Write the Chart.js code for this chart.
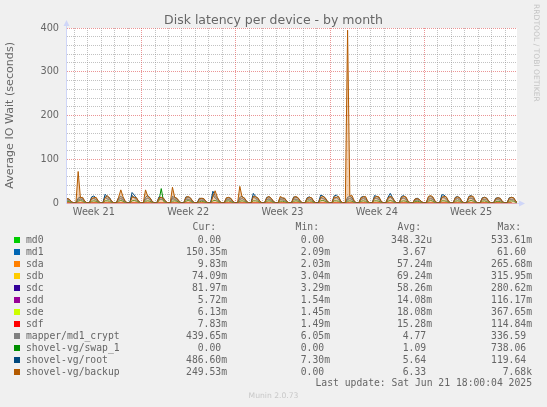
<!DOCTYPE html>
<html>
<head>
<meta charset="utf-8">
<title>Disk latency per device - by month</title>
<script src="https://cdn.jsdelivr.net/npm/chart.js@4.4.1/dist/chart.umd.min.js"></script>
<style>
  html, body { margin: 0; padding: 0; background: #F0F0F0; }
  #wrap { position: relative; width: 547px; height: 407px; overflow: hidden;
          font-family: "DejaVu Sans", sans-serif; color: #666; }
  #chart { position: absolute; left: 0; top: 0; }
  .t { position: absolute; white-space: pre; line-height: 12px; }
  .mono { font-family: "DejaVu Sans Mono", monospace; font-size: 9.72px; }
  .sw { position: absolute; width: 6px; height: 6px; }
  .vbox { position: absolute; display: flex; align-items: center; justify-content: center; }
  .vbox span { writing-mode: vertical-rl; white-space: pre; }
</style>
</head>
<body>
<div id="wrap">
  <canvas id="chart" width="547" height="230"></canvas>
  <div class="t" style="left:0;width:547px;top:12px;line-height:16px;text-align:center;font-size:12.5px;">Disk latency per device - by month</div>
  <div class="vbox" style="left:3px;top:28px;width:14px;height:175px;">
    <span style="font-size:11.1px;line-height:14px;transform:rotate(180deg);">Average IO Wait (seconds)</span>
  </div>
  <div class="vbox" style="left:531px;top:4px;width:10px;height:98px;">
    <span style="font-size:7.6px;line-height:10px;color:#c4c4c4;">RRDTOOL / TOBI OETIKER</span>
  </div>
  <div id="legend"></div>
</div>
<script>
// ===== Data (x in days from the left edge of the graph) =====
const seriesNames = ['md0', 'md1', 'sda', 'sdb', 'sdc', 'sdd', 'sde', 'sdf',
  'mapper/md1_crypt', 'shovel-vg/swap_1', 'shovel-vg/root', 'shovel-vg/backup'];
const seriesColors = ['#00CC00', '#0066B3', '#FF8000', '#FFCC00', '#330099', '#990099',
  '#CCFF00', '#FF0000', '#808080', '#008F00', '#00487D', '#B35A00'];

const weekLabels = ['Week 21', 'Week 22', 'Week 23', 'Week 24', 'Week 25'];
const weekLabelPos = [2.07, 9.07, 16.07, 23.07, 30.07];
const weekStarts = [5.57, 12.57, 19.57, 26.57];
const yTicks = [0, 100, 200, 300, 400];

// 4-hourly samples (00,04,08,12,16,20h), first one at the midnight before the graph starts
const backupValues = [
  0.2, 0.3, 6, 10, 9, 3.5,     0.3, 0.2, 72, 12, 13, 4,
  0.2, 0.3, 11, 12, 13, 4.5,   0.4, 0.3, 12, 17, 11, 3.8,
  0.3, 0.2, 13, 30, 14, 4,     0.2, 0.4, 14, 13, 12, 3.6,
  0.3, 0.2, 30, 15, 12, 3.5,   0.2, 0.3, 12, 13, 11, 3.8,
  0.3, 0.3, 36, 13, 11, 4.2,   0.2, 0.2, 13, 15, 12, 4.4,
  0.3, 0.2, 10, 11, 10, 3.2,   0.2, 0.3, 15, 28, 13, 4,
  0.3, 0.2, 12, 13, 11, 3.6,   0.2, 0.3, 38, 14, 12, 4.1,
  0.3, 0.2, 15, 14, 12, 3.9,   0.2, 0.3, 12, 15, 11, 4,
  0.3, 0.2, 15, 12, 11, 3.4,   0.2, 0.3, 13, 15, 12, 4.3,
  0.3, 0.2, 11, 13, 12, 3.6,   0.2, 0.2, 13, 15, 12, 4.1,
  0.3, 0.3, 14, 13, 15, 3.9,   0.2, 0.2, 395, 16, 17, 4.4,
  0.3, 0.2, 12, 14, 15, 4,     0.2, 0.3, 13, 15, 14, 3.7,
  0.3, 0.2, 12, 15, 13, 4.1,   0.2, 0.3, 13, 15, 14, 3.8,
  0.3, 0.2, 9, 10, 8, 3,       0.2, 0.2, 15, 17, 14, 4.3,
  0.3, 0.3, 13, 15, 14, 4,     0.2, 0.2, 12, 14, 12, 3.7,
  0.3, 0.2, 14, 16, 15, 4.2,   0.2, 0.3, 11, 13, 11, 3.4,
  0.3, 0.2, 10, 12, 11, 3.5,   0.2, 0.2, 11, 13, 12, 3.8,
  0.25
];
const rootValues = [
  0.1, 0.2, 7, 11, 8, 2.5,     0.1, 0.2, 11, 14, 10, 3,
  0.1, 0.3, 14, 16, 11, 3.2,   0.2, 0.2, 20, 14, 12, 3,
  0.1, 0.2, 12, 15, 11, 2.8,   0.2, 0.3, 24, 18, 11, 3.2,
  0.1, 0.2, 13, 17, 12, 2.9,   0.1, 0.2, 14, 12, 11, 3,
  0.1, 0.3, 15, 12, 10, 3.1,   0.1, 0.2, 14, 13, 11, 2.9,
  0.1, 0.2, 11, 10, 9, 2.5,    0.2, 0.2, 27, 17, 11, 3.1,
  0.1, 0.2, 11, 12, 10, 2.8,   0.1, 0.3, 13, 15, 11, 3.2,
  0.1, 0.2, 22, 15, 11, 2.9,   0.2, 0.2, 13, 14, 10, 3,
  0.1, 0.2, 12, 11, 10, 2.8,   0.1, 0.2, 14, 13, 11, 2.9,
  0.1, 0.3, 12, 14, 11, 3,     0.2, 0.2, 18, 16, 12, 3.2,
  0.1, 0.2, 16, 18, 13, 2.9,   0.1, 0.2, 13, 15, 12, 3.1,
  0.1, 0.2, 13, 15, 12, 2.9,   0.2, 0.2, 17, 15, 12, 3.2,
  0.1, 0.2, 13, 22, 12, 2.9,   0.1, 0.3, 15, 17, 12, 3.1,
  0.1, 0.2, 9, 11, 8, 2.4,     0.2, 0.2, 13, 15, 12, 3.1,
  0.1, 0.2, 19, 18, 13, 3.2,   0.1, 0.2, 13, 15, 11, 2.8,
  0.2, 0.2, 15, 17, 12, 3,     0.1, 0.2, 12, 13, 11, 2.8,
  0.1, 0.3, 11, 12, 10, 2.7,   0.1, 0.2, 12, 13, 11, 3,
  0.49
];
const md1Values = [
  0.1, 0.1, 5, 7, 5, 1.6,      0.1, 0.1, 7, 9, 7, 1.9,
  0.1, 0.2, 9, 10, 7, 2,       0.1, 0.1, 13, 9, 8, 1.9,
  0.1, 0.1, 8, 10, 7, 1.8,     0.1, 0.2, 15, 12, 7, 2,
  0.1, 0.1, 8, 11, 8, 1.8,     0.1, 0.1, 9, 8, 7, 1.9,
  0.1, 0.2, 10, 8, 6, 2,       0.1, 0.1, 9, 8, 7, 1.8,
  0.1, 0.1, 7, 6, 6, 1.6,      0.1, 0.1, 17, 11, 7, 2,
  0.1, 0.1, 7, 8, 6, 1.8,      0.1, 0.2, 8, 10, 7, 2,
  0.1, 0.1, 14, 10, 7, 1.8,    0.1, 0.1, 8, 9, 6, 1.9,
  0.1, 0.1, 8, 7, 6, 1.8,      0.1, 0.1, 9, 8, 7, 1.8,
  0.1, 0.2, 8, 9, 7, 1.9,      0.1, 0.1, 12, 10, 8, 2,
  0.1, 0.1, 10, 12, 8, 1.8,    0.1, 0.1, 8, 10, 8, 2,
  0.1, 0.1, 8, 10, 8, 1.8,     0.1, 0.1, 11, 10, 8, 2,
  0.1, 0.1, 8, 14, 8, 1.8,     0.1, 0.2, 10, 11, 8, 2,
  0.1, 0.1, 6, 7, 5, 1.5,      0.1, 0.1, 8, 10, 8, 2,
  0.1, 0.1, 12, 12, 8, 2,      0.1, 0.1, 8, 10, 7, 1.8,
  0.1, 0.1, 10, 11, 8, 1.9,    0.1, 0.1, 8, 8, 7, 1.8,
  0.1, 0.2, 7, 8, 6, 1.7,      0.1, 0.1, 8, 8, 7, 1.9,
  0.15
];
const mapperValues = [
  0.1, 0.2, 6, 8, 6, 1.8,      0.1, 0.2, 8, 10, 8, 2.1,
  0.2, 0.2, 10, 11, 8, 2.2,    0.2, 0.3, 15, 10, 9, 2.1,
  0.1, 0.2, 9, 11, 8, 2,       0.2, 0.3, 18, 13, 8, 2.2,
  0.1, 0.2, 9, 12, 9, 2,       0.2, 0.2, 10, 9, 8, 2.1,
  0.2, 0.3, 11, 9, 7, 2.2,     0.1, 0.2, 10, 9, 8, 2,
  0.1, 0.2, 8, 7, 7, 1.8,      0.2, 0.3, 20, 12, 8, 2.2,
  0.1, 0.2, 8, 9, 7, 2,        0.2, 0.2, 9, 11, 8, 2.2,
  0.1, 0.2, 16, 11, 8, 2,      0.2, 0.3, 9, 10, 7, 2.1,
  0.1, 0.2, 9, 8, 7, 2,        0.2, 0.2, 10, 9, 8, 2,
  0.1, 0.3, 9, 10, 8, 2.1,     0.2, 0.2, 13, 11, 9, 2.2,
  0.1, 0.2, 11, 13, 9, 2,      0.2, 0.3, 9, 11, 9, 2.2,
  0.1, 0.2, 9, 11, 9, 2,       0.2, 0.3, 12, 11, 9, 2.2,
  0.1, 0.2, 9, 16, 9, 2,       0.2, 0.3, 11, 12, 9, 2.2,
  0.1, 0.2, 7, 8, 6, 1.7,      0.2, 0.2, 9, 11, 9, 2.2,
  0.1, 0.2, 14, 13, 9, 2.2,    0.2, 0.3, 9, 11, 8, 2,
  0.2, 0.2, 11, 12, 9, 2.1,    0.1, 0.2, 9, 9, 8, 2,
  0.2, 0.3, 8, 9, 7, 1.9,      0.1, 0.2, 9, 9, 8, 2.1,
  0.44
];
const swapValues = [
  0, 0, 3, 4, 3, 0.8,          0, 0, 4, 6, 4, 1,
  0, 0.1, 4, 5, 4, 1.1,        0, 0, 5, 5, 4, 1,
  0, 0, 4, 6, 4, 0.9,          0, 0, 5, 6, 4, 1.1,
  0, 0, 4, 5, 4, 0.9,          0, 0, 5, 33, 4, 1,
  0, 0, 4, 5, 4, 1,            0, 0, 4, 6, 4, 1.1,
  0, 0, 3, 4, 3, 0.8,          0, 0, 5, 6, 4, 1,
  0, 0, 4, 5, 3, 0.9,          0, 0, 4, 5, 4, 1,
  0, 0, 5, 5, 4, 0.9,          0, 0, 4, 5, 4, 1,
  0, 0, 4, 4, 3, 0.9,          0, 0, 4, 5, 4, 1,
  0, 0, 4, 5, 4, 0.9,          0, 0, 5, 6, 4, 1.1,
  0, 0, 5, 5, 4, 0.9,          0, 0, 4, 5, 4, 1,
  0, 0, 4, 5, 4, 0.9,          0, 0, 5, 5, 4, 1.1,
  0, 0, 4, 6, 4, 0.9,          0, 0, 4, 5, 4, 1,
  0, 0, 3, 4, 3, 0.8,          0, 0, 4, 6, 4, 1,
  0, 0, 5, 5, 4, 1,            0, 0, 4, 5, 4, 0.9,
  0, 0, 4, 6, 4, 1,            0, 0, 4, 5, 3, 0.9,
  0, 0, 3, 4, 3, 0.8,          0, 0, 4, 5, 4, 1,
  0
];

// daily averages for the quiet devices, one per day from the first (partial) day
const md0Values = [0.0003, 0.0002, 0.0004, 0.0003, 0.0005, 0.0002, 0.0003, 0.0004, 0.0003, 0.0002,
  0.0004, 0.0003, 0.0003, 0.0005, 0.0002, 0.0003, 0.0004, 0.0003, 0.0002, 0.0004, 0.0003, 0.0006,
  0.0003, 0.0002, 0.0004, 0.0003, 0.0003, 0.0002, 0.0004, 0.0003, 0.0005, 0.0003, 0.0002, 0.0003];
const sdaValues = [0.05, 0.06, 0.07, 0.05, 0.06, 0.04, 0.07, 0.05, 0.06, 0.05, 0.08, 0.06, 0.05,
  0.06, 0.04, 0.05, 0.07, 0.06, 0.05, 0.06, 0.07, 0.05, 0.06, 0.04, 0.06, 0.05, 0.07, 0.06, 0.05,
  0.06, 0.05, 0.07, 0.05, 0.06];
const sdbValues = [0.07, 0.06, 0.08, 0.07, 0.09, 0.06, 0.07, 0.08, 0.06, 0.07, 0.08, 0.07, 0.06,
  0.07, 0.08, 0.06, 0.07, 0.09, 0.07, 0.06, 0.07, 0.08, 0.06, 0.07, 0.07, 0.06, 0.08, 0.07, 0.06,
  0.07, 0.08, 0.07, 0.06, 0.07];
const sdcValues = [0.06, 0.05, 0.07, 0.06, 0.08, 0.05, 0.06, 0.06, 0.05, 0.06, 0.07, 0.06, 0.05,
  0.06, 0.07, 0.05, 0.06, 0.07, 0.06, 0.05, 0.06, 0.07, 0.05, 0.06, 0.06, 0.05, 0.07, 0.06, 0.05,
  0.06, 0.07, 0.06, 0.05, 0.06];
const sddValues = [0.014, 0.012, 0.016, 0.013, 0.02, 0.011, 0.014, 0.015, 0.012, 0.013, 0.017,
  0.014, 0.012, 0.015, 0.013, 0.012, 0.016, 0.014, 0.013, 0.012, 0.015, 0.014, 0.012, 0.013, 0.014,
  0.011, 0.016, 0.014, 0.013, 0.015, 0.014, 0.013, 0.012, 0.014];
const sdeValues = [0.018, 0.016, 0.021, 0.017, 0.025, 0.015, 0.018, 0.019, 0.016, 0.017, 0.022,
  0.018, 0.016, 0.019, 0.017, 0.016, 0.02, 0.018, 0.017, 0.016, 0.019, 0.018, 0.016, 0.017, 0.018,
  0.015, 0.02, 0.018, 0.017, 0.019, 0.018, 0.017, 0.016, 0.018];
const sdfValues = [0.015, 0.013, 0.017, 0.014, 0.021, 0.012, 0.015, 0.016, 0.013, 0.014, 0.018,
  0.015, 0.013, 0.016, 0.014, 0.013, 0.017, 0.015, 0.014, 0.013, 0.016, 0.015, 0.013, 0.014, 0.015,
  0.012, 0.017, 0.015, 0.014, 0.016, 0.015, 0.014, 0.013, 0.015];

// legend figures (Cur / Min / Avg / Max)
const curVals = ['0.00 ', '150.35m', '9.83m', '74.09m', '81.97m', '5.72m', '6.13m', '7.83m',
  '439.65m', '0.00 ', '486.60m', '249.53m'];
const minVals = ['0.00 ', '2.09m', '2.03m', '3.04m', '3.29m', '1.54m', '1.45m', '1.49m',
  '6.05m', '0.00 ', '7.30m', '0.00 '];
const avgVals = ['348.32u', '3.67 ', '57.24m', '69.24m', '58.26m', '14.08m', '18.08m', '15.28m',
  '4.77 ', '1.09 ', '5.64 ', '6.33 '];
const maxVals = ['533.61m', '61.60 ', '265.68m', '315.95m', '280.62m', '116.17m', '367.65m',
  '114.84m', '336.59 ', '738.06 ', '119.64 ', '7.68k'];
const lastUpdate = 'Last update: Sat Jun 21 18:00:04 2025';

// ===== Layout / style =====
const X_MAX = 33.48;
const FOURHOURLY_START = -0.43;
const DAILY_START = 0.07;
const AXIS_COLOR = '#CFD6F8';
const BASELINE_COLOR = '#E3A3AC';
const MAJOR_GRID = 'rgba(222, 79, 79, 0.6)';
const MINOR_GRID = 'rgba(143, 143, 143, 0.55)';
const FONT_COLOR = '#666666';

function toPoints(values, start, perDay) {
  return values.map((v, i) => ({ x: start + i / perDay, y: v }));
}

const seriesPoints = [
  toPoints(md0Values, DAILY_START, 1),
  toPoints(md1Values, FOURHOURLY_START, 6),
  toPoints(sdaValues, DAILY_START, 1),
  toPoints(sdbValues, DAILY_START, 1),
  toPoints(sdcValues, DAILY_START, 1),
  toPoints(sddValues, DAILY_START, 1),
  toPoints(sdeValues, DAILY_START, 1),
  toPoints(sdfValues, DAILY_START, 1),
  toPoints(mapperValues, FOURHOURLY_START, 6),
  toPoints(swapValues, FOURHOURLY_START, 6),
  toPoints(rootValues, FOURHOURLY_START, 6),
  toPoints(backupValues, FOURHOURLY_START, 6)
];

// daily grid lines (aligned with the week boundaries)
const dayLines = [];
for (let d = weekStarts[0] - 5; d <= X_MAX; d += 1) dayLines.push(d);
const near = (list, v) => list.some(w => Math.abs(w - v) < 1e-6);

const datasets = seriesNames.map((name, i) => {
  const isBackup = name === 'shovel-vg/backup';
  return {
    label: name,
    data: seriesPoints[i],
    borderColor: seriesColors[i],
    backgroundColor: isBackup ? 'rgba(228, 150, 80, 0.45)' : seriesColors[i],
    fill: isBackup ? 'origin' : false,
    order: seriesNames.length - 1 - i // later series drawn on top, like rrdtool
  };
});

// white plotting canvas, the day/week grid and the little axis arrows
const muninFrame = {
  id: 'muninFrame',
  beforeDraw(chart) {
    const { ctx, chartArea: a } = chart;
    ctx.save();
    ctx.fillStyle = '#FFFFFF';
    ctx.fillRect(a.left, a.top, a.right - a.left, a.bottom - a.top);
    ctx.restore();
  },
  beforeDatasetsDraw(chart) {
    const { ctx, chartArea: a } = chart;
    const xs = chart.scales.x;
    ctx.save();
    ctx.lineWidth = 1;
    ctx.setLineDash([1, 1]);
    dayLines.forEach(v => {
      const px = Math.round(xs.getPixelForValue(v)) + 0.5;
      ctx.strokeStyle = near(weekStarts, v) ? MAJOR_GRID : MINOR_GRID;
      ctx.beginPath();
      ctx.moveTo(px, a.top);
      ctx.lineTo(px, a.bottom);
      ctx.stroke();
    });
    ctx.restore();
  },
  afterDraw(chart) {
    const { ctx, chartArea: a } = chart;
    const x0 = Math.round(a.left) + 0.5, y0 = Math.round(a.bottom) + 0.5;
    ctx.save();
    ctx.strokeStyle = AXIS_COLOR;
    ctx.fillStyle = AXIS_COLOR;
    ctx.lineWidth = 1;
    ctx.beginPath();
    ctx.moveTo(x0, a.top); ctx.lineTo(x0, a.top - 3);
    ctx.moveTo(a.right, y0); ctx.lineTo(a.right + 2, y0);
    ctx.stroke();
    ctx.beginPath();
    ctx.moveTo(x0, a.top - 8); ctx.lineTo(x0 - 3, a.top - 2); ctx.lineTo(x0 + 3, a.top - 2);
    ctx.closePath(); ctx.fill();
    ctx.beginPath();
    ctx.moveTo(a.right + 8, y0); ctx.lineTo(a.right + 2, y0 - 3); ctx.lineTo(a.right + 2, y0 + 3);
    ctx.closePath(); ctx.fill();
    ctx.restore();
  }
};

const tickFont = { family: 'DejaVu Sans', size: 9.72 };

new Chart(document.getElementById('chart'), {
  type: 'line',
  data: { datasets },
  options: {
    responsive: false,
    animation: false,
    layout: { padding: { left: 0, right: 30, top: 28, bottom: 0 } },
    elements: {
      point: { radius: 0 },
      line: { borderWidth: 1, tension: 0 }
    },
    plugins: {
      legend: { display: false },
      tooltip: { enabled: false }
    },
    scales: {
      x: {
        type: 'linear',
        min: 0,
        max: X_MAX,
        afterBuildTicks: s => { s.ticks = weekLabelPos.map(v => ({ value: v })); },
        afterFit: s => { s.height = 27; },
        ticks: {
          autoSkip: false,
          maxRotation: 0,
          padding: 4,
          color: FONT_COLOR,
          font: tickFont,
          callback: (v, i) => weekLabels[i]
        },
        grid: { display: false, drawTicks: false },
        border: { display: true, color: BASELINE_COLOR, width: 1, z: 1 }
      },
      y: {
        min: 0,
        max: 400,
        afterFit: s => { s.width = 66; },
        ticks: {
          stepSize: 20,
          autoSkip: false,
          padding: 7,
          color: FONT_COLOR,
          font: tickFont,
          callback: v => yTicks.includes(v) ? String(v) : ''
        },
        grid: {
          drawTicks: false,
          color: c => (c.tick && yTicks.includes(c.tick.value)) ? MAJOR_GRID : MINOR_GRID
        },
        border: { display: true, color: AXIS_COLOR, width: 1, dash: [1, 1], z: 1 }
      }
    }
  },
  plugins: [muninFrame]
});

// ===== Munin style legend below the graph =====
const legend = document.getElementById('legend');
const colRight = [227, 330, 432, 532];
const colHeads = ['Cur:', 'Min:', 'Avg:', 'Max:'];
const ROW0 = 240, ROW_STEP = 12;

function addText(text, cls, style) {
  const el = document.createElement('div');
  el.className = 't ' + cls;
  el.textContent = text;
  Object.assign(el.style, style);
  legend.appendChild(el);
  return el;
}
function rightAt(x, cy) {
  return { right: (547 - x) + 'px', top: (cy - 6) + 'px', textAlign: 'right' };
}

colHeads.forEach((h, c) => addText(h, 'mono', rightAt(colRight[c] - 11, 227.3)));

seriesNames.forEach((name, i) => {
  const cy = ROW0 + i * ROW_STEP;
  const sw = document.createElement('div');
  sw.className = 'sw';
  Object.assign(sw.style, { left: '14px', top: (cy - 3) + 'px', background: seriesColors[i] });
  legend.appendChild(sw);
  addText(name, 'mono', { left: '26px', top: (cy - 6) + 'px' });
  [curVals, minVals, avgVals, maxVals].forEach((col, c) => {
    addText(col[i], 'mono', rightAt(colRight[c], cy));
  });
});

addText(lastUpdate, 'mono', rightAt(532, 383.3));
addText('Munin 2.0.73', '', { left: '0px', width: '547px', textAlign: 'center', top: '390px',
  fontSize: '7.64px', color: '#c8c8c8' });
</script>
</body>
</html>
